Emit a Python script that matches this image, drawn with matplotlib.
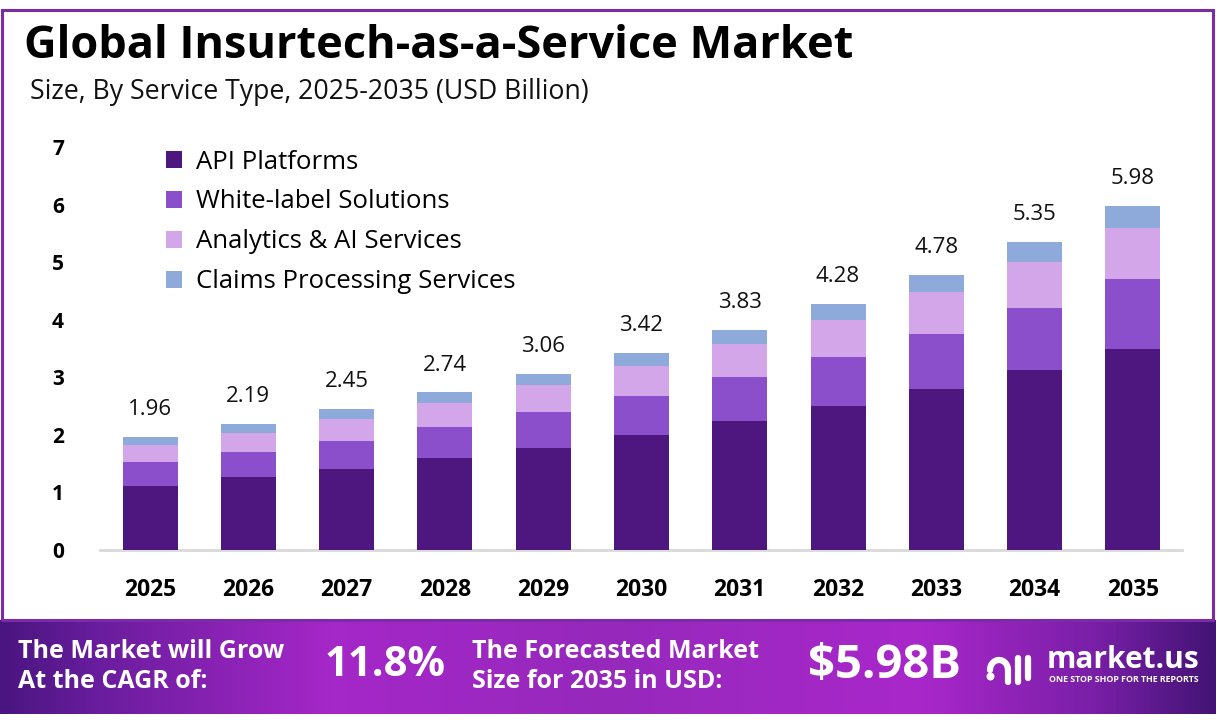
import matplotlib
matplotlib.use("Agg")
import matplotlib.pyplot as plt
import numpy as np
from matplotlib.colors import LinearSegmentedColormap
from matplotlib.patches import Rectangle, Patch

years = ["2025", "2026", "2027", "2028", "2029", "2030", "2031", "2032", "2033", "2034", "2035"]
api_platforms = [1.12, 1.26, 1.41, 1.60, 1.78, 1.99, 2.24, 2.50, 2.80, 3.12, 3.49]
white_label = [0.40, 0.45, 0.49, 0.54, 0.61, 0.68, 0.77, 0.85, 0.95, 1.08, 1.21]
analytics_ai = [0.30, 0.33, 0.38, 0.42, 0.47, 0.52, 0.57, 0.64, 0.73, 0.80, 0.90]
claims = [0.14, 0.15, 0.17, 0.18, 0.20, 0.23, 0.25, 0.29, 0.30, 0.35, 0.38]
totals = [1.96, 2.19, 2.45, 2.74, 3.06, 3.42, 3.83, 4.28, 4.78, 5.35, 5.98]
series_names = ["API Platforms", "White-label Solutions", "Analytics & AI Services", "Claims Processing Services"]
colors = ["#4E1780", "#8B4FCB", "#D3A6EA", "#8EAADB"]

FONT = "Open Sans"
plt.rcParams["font.family"] = [FONT, "DejaVu Sans"]

W, H = 1216, 728
fig = plt.figure(figsize=(W / 100, H / 100), dpi=100)
fig.patch.set_facecolor("white")

# frame
fig.add_artist(Rectangle((2 / W, 1 - 620 / H), 1211 / W, 610 / H, transform=fig.transFigure,
                         fill=False, edgecolor="#7B2AA8", linewidth=2.2))

# title
fig.text(24 / W, 1 - 46 / H, "Global Insurtech-as-a-Service Market", fontsize=32.5, fontweight="bold",
         color="black", va="center", ha="left")
fig.text(30 / W, 1 - 92 / H, "Size, By Service Type, 2025-2035 (USD Billion)", fontsize=19.2,
         color="#111111", va="center", ha="left")

# axes
left, right = 100 / W, 1182 / W
bottom, top = 1 - 550 / H, 1 - 147 / H
ax = fig.add_axes([left, bottom, right - left, top - bottom])
x = np.arange(len(years))
series = [api_platforms, white_label, analytics_ai, claims]
base = np.zeros(len(years))
for vals, c, name in zip(series, colors, series_names):
    ax.bar(x, vals, bottom=base, width=0.56, color=c, label=name, zorder=3)
    base = base + np.array(vals)

for xi, t in zip(x, totals):
    ax.annotate(f"{t:.2f}", (xi, t), xytext=(0, 12), textcoords="offset points",
                ha="center", va="bottom", fontsize=16, color="#111111")

ax.set_xlim(-0.51, 10.5)
ax.set_ylim(0, 7)
ax.set_yticks(range(0, 8))
ax.set_xticks(x)
ax.set_xticklabels(years)
for s in ["top", "right", "left"]:
    ax.spines[s].set_visible(False)
ax.spines["bottom"].set_color("#d9d9d9")
ax.spines["bottom"].set_linewidth(2)
ax.tick_params(axis="both", length=0)
ax.tick_params(axis="x", pad=20, labelsize=16.5)
ax.tick_params(axis="y", pad=26, labelsize=15)
for lab in ax.get_xticklabels() + ax.get_yticklabels():
    lab.set_fontweight("bold")
ax.patch.set_alpha(0)

handles = [Patch(facecolor=c, edgecolor="none") for c in colors]
ax.legend(handles, series_names, loc="upper left", bbox_to_anchor=(51 / 1082, 1.032),
          frameon=False, fontsize=18.5, handlelength=0.62, handleheight=0.62,
          handletextpad=0.55, labelspacing=0.58, borderaxespad=0.2)

# banner with gradient
bax = fig.add_axes([0, 1 - 714 / H, 1, 94 / H])
stops = [(0.0, "#4A1580"), (0.08, "#6A1D9E"), (0.27, "#A527C8"), (0.5, "#9629BC"),
         (0.76, "#A927CA"), (0.9, "#7A1FA8"), (1.0, "#431475")]
cmap = LinearSegmentedColormap.from_list("ban", stops)
grad = np.linspace(0, 1, 512).reshape(1, -1)
bax.imshow(grad, aspect="auto", cmap=cmap, extent=[0, 1, 0, 1])
bax.set_xlim(0, 1)
bax.set_ylim(0, 1)
bax.axis("off")

def fx(px):
    return px / W

def fy(py):
    return 1 - py / H

fig.text(fx(18), fy(652), "The Market will Grow", color="white", fontsize=18, fontweight="bold", va="center")
fig.text(fx(18), fy(682), "At the CAGR of:", color="white", fontsize=18, fontweight="bold", va="center")
fig.text(fx(385), fy(665), "11.8%", color="white", fontsize=30, fontweight="bold", va="center", ha="center")
fig.text(fx(472), fy(652), "The Forecasted Market", color="white", fontsize=18, fontweight="bold", va="center")
fig.text(fx(472), fy(682), "Size for 2035 in USD:", color="white", fontsize=18, fontweight="bold", va="center")
fig.text(fx(884), fy(665), "$5.98B", color="white", fontsize=34, fontweight="bold", va="center", ha="center")
fig.text(fx(1047), fy(668), "market.us", color="white", fontsize=21.5, fontweight="bold", va="baseline", ha="left")
fig.text(fx(1049), fy(680), "ONE STOP SHOP FOR THE REPORTS", color="white", fontsize=6.4, fontweight="bold",
         va="center", ha="left")
# simple logo glyph
lax = fig.add_axes([fx(985), fy(690), 55 / W, 45 / H])
lax.set_xlim(0, 55)
lax.set_ylim(0, 45)
lax.axis("off")
t = np.linspace(np.pi, 0, 40)
lax.plot(14 + 9 * np.cos(t), 20 + 10 * np.sin(t), color="white", lw=4.5, solid_capstyle="round")
lax.plot([23, 23], [20, 8], color="white", lw=4.5, solid_capstyle="round")
lax.plot([33, 33], [8, 32], color="white", lw=4.5, solid_capstyle="round")
lax.plot([43, 43], [12, 32], color="white", lw=4.5, solid_capstyle="round")
lax.plot([5, 5], [14, 14], marker="o", color="white", ms=4.5)

fig.savefig("out.png", dpi=100, facecolor="white")
